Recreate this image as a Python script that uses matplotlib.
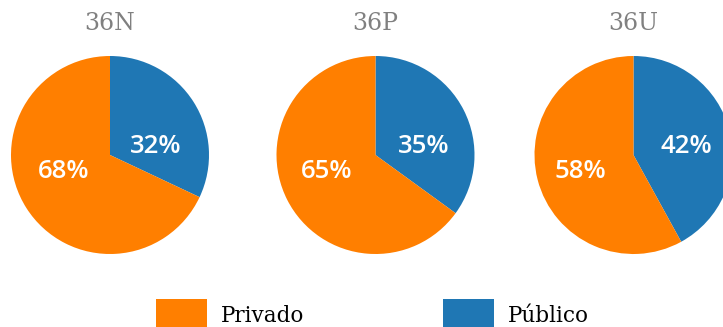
import matplotlib as mpl
import matplotlib.pyplot as plt
from matplotlib.patches import Rectangle

mpl.rcParams["font.family"] = ["Open Sans", "DejaVu Sans"]

# share of each school type per course, in percent
groups = ["36N", "36P", "36U"]
categories = ["Público", "Privado"]
publico = [32, 35, 42]
privado = [68, 65, 58]
colors = ["#1f77b4", "#ff7f00"]

W, H = 723, 327
fig = plt.figure(figsize=(W / 100, H / 100), dpi=100)

# pie centres in pixels, radius 99px
centres_x = [110, 375.5, 633.5]
centre_y = H - 155
radius = 99

for name, pub, priv, cx in zip(groups, publico, privado, centres_x):
    ax = fig.add_axes(
        [(cx - radius) / W, (centre_y - radius) / H, 2 * radius / W, 2 * radius / H]
    )
    wedges, texts, autotexts = ax.pie(
        [pub, priv],
        colors=colors,
        startangle=90,
        counterclock=False,
        radius=1,
        autopct="%d%%",
        pctdistance=0.55,
        wedgeprops=dict(linewidth=0),
        textprops=dict(color="white", fontsize=18.5, fontweight="semibold"),
    )
    # keep the labels on two common rows
    for t, dy in zip(autotexts, [0.09, -0.17]):
        x, _ = t.get_position()
        t.set_position((x, dy))
        t.set_ha("center")
        t.set_va("center")
    ax.set_xlim(-1, 1)
    ax.set_ylim(-1, 1)
    ax.set_aspect("equal")
    ax.axis("off")

    fig.text(
        cx / W,
        (H - 23) / H,
        name,
        ha="center",
        va="center",
        color="#808080",
        fontsize=17,
        family="DejaVu Serif",
    )

# legend drawn by hand along the bottom edge
legend_x = [156, 443]
for lx, label, color in zip(legend_x, categories[::-1], colors[::-1]):
    fig.patches.append(
        Rectangle(
            (lx / W, 0),
            51 / W,
            28 / H,
            transform=fig.transFigure,
            facecolor=color,
            edgecolor="none",
        )
    )
    fig.text(
        (lx + 65) / W,
        (H - 322) / H,
        label,
        ha="left",
        va="baseline",
        color="black",
        fontsize=15.5,
        family="DejaVu Serif",
    )

fig.savefig("out.png", dpi=100)
